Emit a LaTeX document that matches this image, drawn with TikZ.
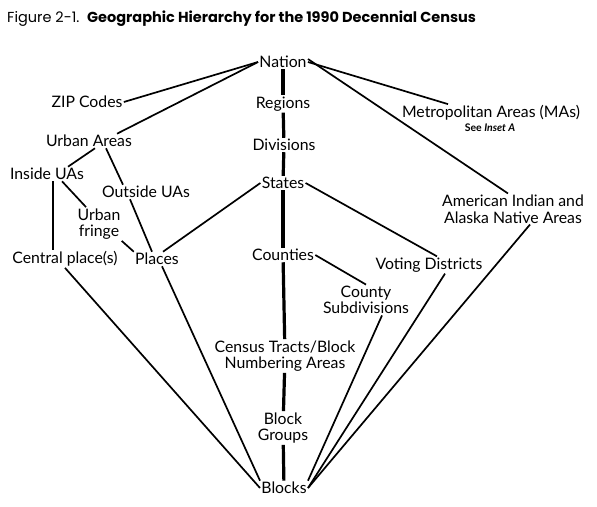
\documentclass[tikz,border=0pt]{standalone}
\usepackage{fontspec}
\setmainfont{Lato}
\newfontfamily\titlefont{Poppins}
\begin{document}
\begin{tikzpicture}[x=1pt,y=-1pt,
  lbl/.style={font=\fontsize{15.8}{16.5}\selectfont, inner sep=1.2pt, align=center},
  thin/.style={line width=1.7pt},
  thick/.style={line width=3.2pt}]
\useasboundingbox (0,0) rectangle (597,506);
\node[anchor=west, inner sep=0, font=\titlefont\fontsize{14.5}{17}\selectfont] (title) at (7,19) {Figure 2-1.\ \ \textbf{Geographic Hierarchy for the 1990 Decennial Census}};
\node[lbl] (nation) at (283,62) {Nation};
\node[lbl] (regions) at (283,104) {Regions};
\node[lbl] (divisions) at (284,145) {Divisions};
\node[lbl] (states) at (283,183) {States};
\node[lbl] (counties) at (283,255) {Counties};
\node[lbl] (census) at (285,356) {Census Tracts/Block\\Numbering Areas};
\node[lbl] (bgroups) at (283,428) {Block\\Groups};
\node[lbl] (blocks) at (284,488) {Blocks};
\node[lbl] (metro) at (491,113) {Metropolitan Areas (MAs)};
\node[font=\fontsize{10.5}{12}\selectfont\bfseries, inner sep=1pt] (inset) at (490,128) {See \textit{Inset A}};
\node[lbl] (amind) at (513,209) {American Indian and\\Alaska Native Areas};
\node[lbl] (voting) at (429,265) {Voting Districts};
\node[lbl] (cosub) at (366,300) {County\\Subdivisions};
\node[lbl] (zip) at (87,102) {ZIP Codes};
\node[lbl] (urban) at (89,141) {Urban Areas};
\node[lbl] (inside) at (47,174) {Inside UAs};
\node[lbl] (outside) at (146,192) {Outside UAs};
\node[lbl] (fringe) at (99,224) {Urban\\fringe};
\node[lbl] (central) at (65,259) {Central place(s)};
\node[lbl] (places) at (157,259) {Places};
% trunk
\draw[thick] (nation) -- (regions);
\draw[thick] (regions) -- (divisions);
\draw[thick] (divisions) -- (states);
\draw[thick] (states) -- (counties);
\draw[thick] (counties) -- (census);
\draw[thick] (census) -- (bgroups);
\draw[thick] (bgroups) -- (blocks);
% from nation
\draw[thin] (nation.west) -- (zip.east);
\draw[thin] (nation.west) -- ([xshift=28pt]urban.north);
\draw[thin] (nation.east) -- ([xshift=-43pt]metro.north);
\draw[thin] ([yshift=3pt]nation.east) -- ([xshift=-5pt]amind.north);
% urban branch
\draw[thin] ([xshift=6pt]urban.south) -- ([xshift=21pt]inside.north);
\draw[thin] ([xshift=17pt]urban.south) -- ([xshift=-23pt]outside.north);
\draw[thin] ([xshift=-16pt]outside.south) -- ([xshift=-5pt]places.north);
\draw[thin] ([xshift=6pt]inside.south) -- ([xshift=6pt]inside.south |- central.north);
\draw[thin] ([xshift=15pt]inside.south) -- ([xshift=-13pt]fringe.north);
\draw[thin] (fringe.south east) -- (places.north west);
% states
\draw[thin] (states.west) -- ([xshift=6pt]places.north);
\draw[thin] (states.east) -- ([xshift=8pt]voting.north);
\draw[thin] (counties.east) -- (cosub.north);
% to blocks
\draw[thin] (central.south) -- (blocks.west);
\draw[thin] ([xshift=5pt]places.south) -- (blocks.north west);
\draw[thin] ([xshift=16pt]cosub.south) -- (blocks.north east);
\draw[thin] ([xshift=16pt]voting.south) -- (blocks.east);
\draw[thin] ([xshift=17pt]amind.south) -- (blocks.east);
\end{tikzpicture}
\end{document}
